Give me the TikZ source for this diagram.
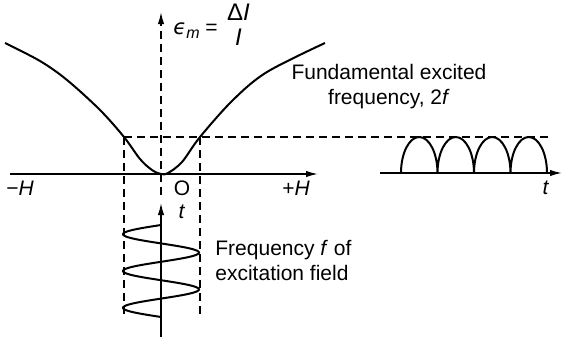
\documentclass[tikz,border=0pt]{standalone}
\usepackage{fontspec}
\setmainfont{Liberation Sans}
\newfontfamily\greekfont{DejaVu Sans}
\usetikzlibrary{arrows.meta,positioning}

\begin{document}
\begin{tikzpicture}[
        x=0.5pt, y=-0.5pt,
        axis/.style={line width=0.75pt, -{Latex[length=6pt,width=3.2pt]}},
        guide/.style={line width=0.6pt, dash pattern=on 4pt off 2.5pt},
        curve/.style={line width=1pt},
        label/.style={font=\fontsize{10.5}{12.5}\selectfont, inner sep=0pt}
    ]
    \useasboundingbox (0,0) rectangle (564,339);

    % Eixos
    \coordinate (hleft) at (10,174);
    \coordinate (hright) at (318,174);
    \coordinate (ebot) at (161,195);
    \coordinate (etop) at (161,12);
    \coordinate (tbot) at (161,337);
    \coordinate (ttop) at (161,203);
    \coordinate (rleft) at (380,173);
    \coordinate (rright) at (562,173);

    \draw[axis] (hleft) -- (hright);
    \draw[axis, dash pattern=on 4pt off 2.5pt] (ebot) -- (etop);
    \draw[axis] (tbot) -- (ttop);
    \draw[axis] (rleft) -- (rright);

    % Linhas auxiliares
    \coordinate (lcut) at (124,137);
    \coordinate (rcut) at (200,137);
    \coordinate (lcutb) at (124,318);
    \coordinate (rcutb) at (200,318);
    \coordinate (dend) at (548,137);
    \draw[guide] (lcut) -- (lcutb);
    \draw[guide] (rcut) -- (rcutb);
    \draw[guide] (lcut) -- (dend);

    % Curva
    \draw[curve] plot[smooth, tension=0.55] coordinates {
        (5,43) (40,61) (67,80) (100,110) (124,137) (140,159) (152,170)
        (161,174) (168,173) (182,162) (200,137) (233,100) (267,72) (325,43)};

    % Campo de excitacao
    \draw[curve] plot[domain=0:2.5, samples=121, smooth]
        ({161-38*sin(360*\x)}, {225+36.8*\x});

    % Sinal 2f
    \coordinate (bump) at (401,173);
    \draw[curve] (bump)
        \foreach \k in {1,...,4} {
            arc[start angle=180, end angle=360, x radius=18.25, y radius=36]
        };

    % Textos
    \node[label, anchor=base west] (eps) at (173,34)
        {{\greekfont\itshape ϵ}\raisebox{-0.45ex}{\fontsize{8}{8}\selectfont\itshape m} =\hspace{0.45em}%
         {\fontsize{12}{12.5}\selectfont
         \begin{tabular}[c]{@{}c@{}}Δ\textit{I}\\\textit{I}\end{tabular}}};
    \node[label, align=center] (fund) at (389,87)
        {Fundamental excited\\frequency, 2\textit{f}};
    \node[label, align=left, anchor=west] (freq) at (215,260)
        {Frequency \textit{f} of\\excitation field};
    \node[label] (hneg) at (20,188) {−\textit{H}};
    \node[label] (orig) at (182,188) {O};
    \node[label] (hpos) at (296,188) {+\textit{H}};
    \node[label] (tleft) at (182,212) {\textit{t}};
    \node[label] (tright) at (546,188) {\textit{t}};

\end{tikzpicture}
\end{document}
